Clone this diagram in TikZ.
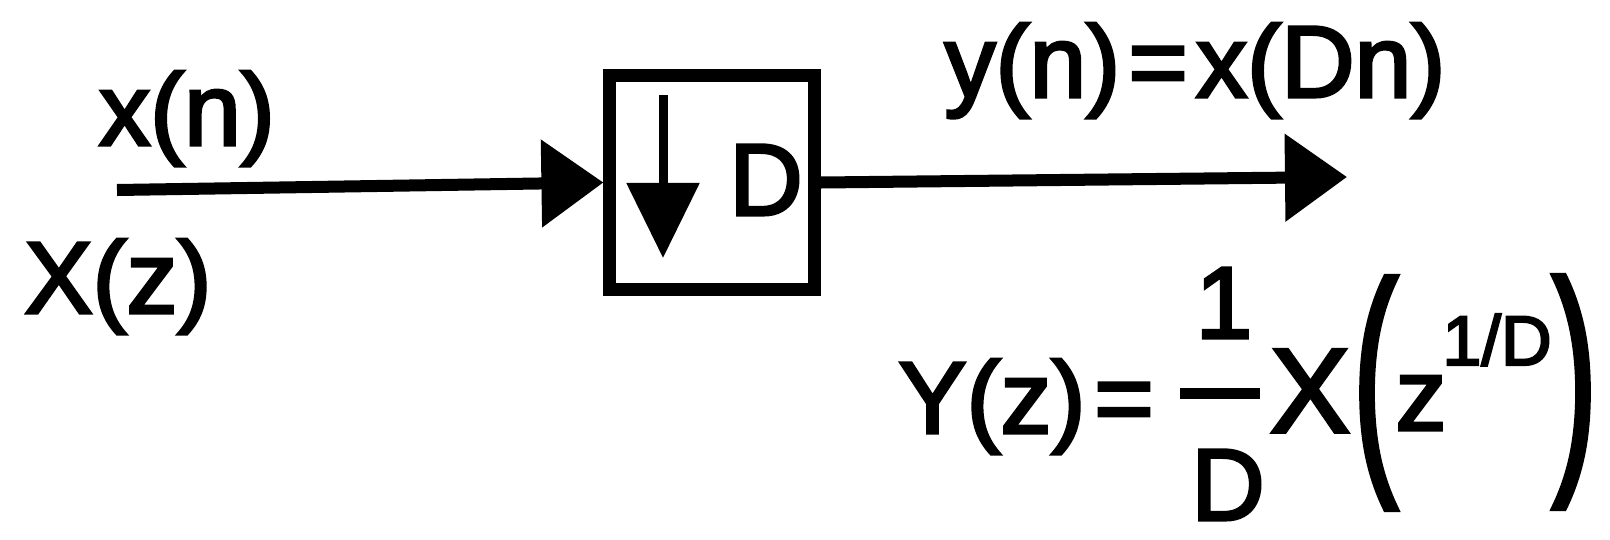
\documentclass[tikz,border=0pt]{standalone}
\usepackage{fontspec}
\usepackage{graphicx}
\setmainfont{Liberation Sans}[FakeBold=3]
\usetikzlibrary{arrows.meta}
\begin{document}
\begin{tikzpicture}[x=0.01cm,y=-0.01cm,
  lbl/.style={inner sep=0pt, font=\fontsize{29}{34}\selectfont},
  bigtip/.style={-{Triangle[length=0.62cm,width=0.85cm]}},
  wire/.style={line width=0.12cm}]
\useasboundingbox (0,0) rectangle (1610,539);
% decimator block
\node[draw, line width=0.13cm, minimum width=2.04cm, minimum height=2.13cm, inner sep=0pt] (box) at (712,182.5) {};
\coordinate (dtop) at (663,95);
\coordinate (dtip) at (663,258);
\draw[line width=0.09cm, -{Triangle[length=0.75cm,width=0.71cm]}] (dtop) -- (dtip);
\node[lbl, anchor=base] (bD) at (766,215) {D};
% input / output
\coordinate (in) at (117,190);
\coordinate (out) at (1347,177);
\draw[wire,bigtip] (in) -- (box.west);
\draw[wire,bigtip] (box.east) -- (out);
% labels
\node[lbl, anchor=base] (xn) at (187,145) {x(n)};
\node[lbl, anchor=base] (Xz) at (118,313) {X(z)};
\node[lbl, anchor=base] (yn) at (1195,97) {y(n)\hspace{0.08em}=\hspace{0.08em}x(Dn)};
% formula
\node[lbl, anchor=base] (Yz) at (992,433) {Y(z)};
\node[lbl, anchor=base] (eq) at (1124,433) {=};
\coordinate (fl) at (1180,393);
\coordinate (fr) at (1260,393);
\draw[line width=0.11cm] (fl) -- (fr);
\node[lbl, anchor=base] (one) at (1224,338) {1};
\node[lbl, anchor=base] (den) at (1228,520) {D};
\node[inner sep=0pt, font=\fontsize{34}{40}\selectfont, anchor=base] (X) at (1310,432) {X};
\node[lbl] (lp) at (1375,393) {\scalebox{1.3}[2.43]{(}};
\node[lbl, anchor=base] (z) at (1421,430) {z};
\node[inner sep=0pt, font=\fontsize{20}{24}\selectfont, anchor=base] (sup) at (1497,365) {1/D};
\node[lbl] (rp) at (1575,392) {\scalebox{1.3}[2.43]{)}};
\end{tikzpicture}
\end{document}
